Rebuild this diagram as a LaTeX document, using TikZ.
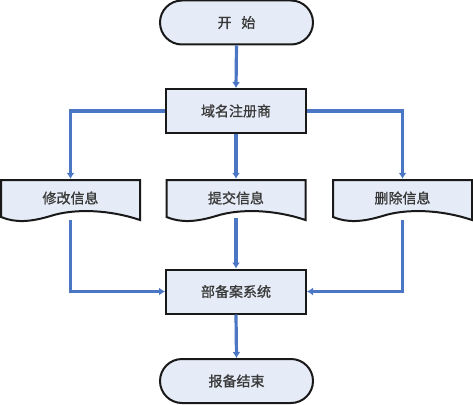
\documentclass[tikz,border=0pt]{standalone}
\usepackage{fontspec}
\setmainfont{Noto Sans CJK SC}[FakeBold=1.2]
\usetikzlibrary{arrows.meta}
\definecolor{lineblue}{HTML}{4A76C4}
\definecolor{boxfill}{HTML}{E6ECF7}
\definecolor{txt}{HTML}{3A3A3A}
\tikzset{
  box/.style={draw=black!90, line width=2pt, fill=boxfill, minimum width=140pt, minimum height=44pt, inner sep=0pt, text=txt, font=\fontsize{14pt}{16pt}\selectfont},
  term/.style={box, rounded corners=22pt, minimum width=153pt},
  docnode/.style={minimum width=140pt, minimum height=38pt, inner sep=0pt, text=txt, font=\fontsize{14pt}{16pt}\selectfont},
  docline/.style={draw=black!90, line width=2pt, fill=boxfill},
  conn/.style={draw=lineblue, line width=3.2pt, -{Latex[length=6pt,width=8pt]}},
}
\begin{document}
\begin{tikzpicture}[x=1pt,y=-1pt]
\useasboundingbox (0,0) rectangle (473,404);
\node[term] (start) at (236.5,22.5) {开\hspace{0.7em}始};
\node[box] (reg) at (236,111) {域名注册商};
\node[box] (sys) at (236,291.5) {部备案系统};
\node[term] (end) at (236.5,381) {报备结束};
% documents
\foreach \n/\cx in {d1/70.5, d2/236, d3/402.5}{
  \draw[docline] (\cx-69.5,180) -- (\cx+69.5,180) -- (\cx+69.5,220)
     .. controls (\cx+40,210) and (\cx+5,208) .. (\cx-20,216)
     .. controls (\cx-40,222) and (\cx-55,223) .. (\cx-69.5,217) -- cycle;
}
\node[docnode] (d1) at (70.5,198) {修改信息};
\node[docnode] (d2) at (236,198) {提交信息};
\node[docnode] (d3) at (402.5,198) {删除信息};
% connectors
\draw[conn] (start.south) -- (reg.north);
\draw[conn] (reg.west) -| (d1.north);
\draw[conn] (reg.south) -- (d2.north);
\draw[conn] (reg.east) -| (d3.north);
\draw[conn] ([yshift=-3pt]d1.south) |- (sys.west);
\draw[conn] ([yshift=-1pt]d2.south) -- (sys.north);
\draw[conn] ([yshift=-3pt]d3.south) |- (sys.east);
\draw[conn] (sys.south) -- (end.north);
\end{tikzpicture}
\end{document}
